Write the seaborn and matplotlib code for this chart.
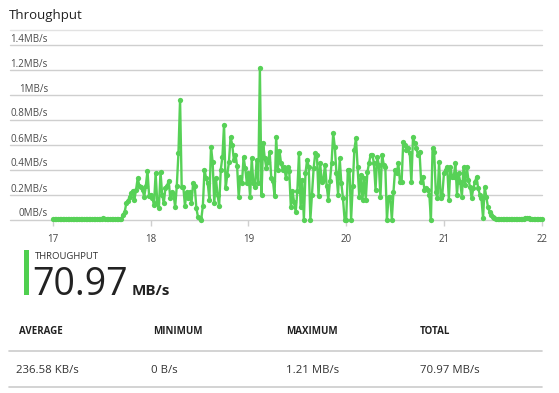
import numpy as np
import pandas as pd
import matplotlib
matplotlib.use("Agg")
import matplotlib.pyplot as plt
import seaborn as sns
from matplotlib import transforms
from matplotlib.patches import Rectangle
from matplotlib.lines import Line2D

# ---------------- data (MB/s, one sample per minute from 17:00) ----------------
idle_17 = [0.003, 0.003, 0.003, 0.003, 0.003, 0.003, 0.003, 0.003, 0.003, 0.003,
           0.003, 0.003, 0.003, 0.003, 0.003, 0.003, 0.003, 0.003, 0.003, 0.003,
           0.003, 0.003, 0.003, 0.003, 0.003, 0.003, 0.003, 0.003, 0.003, 0.003,
           0.006, 0.010, 0.006, 0.003, 0.003, 0.003, 0.003, 0.003, 0.003, 0.003,
           0.003, 0.003]
ramp_17 = [0.005, 0.04, 0.06, 0.13, 0.15, 0.18, 0.21, 0.23, 0.16, 0.24,
           0.33, 0.27, 0.26, 0.24, 0.18, 0.27, 0.39, 0.19]
hour_18 = [0.20, 0.17, 0.12, 0.37, 0.14, 0.09, 0.38, 0.20, 0.13, 0.25,
           0.27, 0.31, 0.17, 0.22, 0.20, 0.10, 0.27, 0.53, 0.96, 0.26,
           0.26, 0.11, 0.22, 0.17, 0.22, 0.13, 0.29, 0.27, 0.09, 0.02,
           0.01, 0.00, 0.11, 0.40, 0.33, 0.29, 0.16, 0.58, 0.46, 0.13,
           0.33, 0.20, 0.11, 0.40, 0.50, 0.76, 0.25, 0.36, 0.46, 0.66,
           0.60, 0.48, 0.52, 0.43, 0.18, 0.34, 0.29, 0.50, 0.41, 0.29]
hour_19 = [0.37, 0.18, 0.49, 0.29, 0.26, 0.48, 0.29, 1.21, 0.20, 0.61,
           0.49, 0.41, 0.46, 0.54, 0.33, 0.31, 0.19, 0.66, 0.40, 0.55,
           0.45, 0.40, 0.42, 0.33, 0.42, 0.39, 0.10, 0.23, 0.14, 0.06,
           0.23, 0.53, 0.10, 0.32, 0.00, 0.37, 0.48, 0.42, 0.00, 0.20,
           0.41, 0.53, 0.52, 0.19, 0.45, 0.30, 0.32, 0.44, 0.27, 0.16,
           0.31, 0.45, 0.69, 0.58, 0.37, 0.20, 0.49, 0.29, 0.17, 0.00]
hour_20 = [0.00, 0.40, 0.40, 0.00, 0.27, 0.56, 0.65, 0.42, 0.18, 0.36,
           0.16, 0.33, 0.16, 0.38, 0.45, 0.52, 0.52, 0.45, 0.24, 0.50,
           0.44, 0.18, 0.52, 0.44, 0.42, 0.00, 0.18, 0.18, 0.00, 0.22,
           0.40, 0.37, 0.45, 0.30, 0.30, 0.62, 0.60, 0.56, 0.57, 0.53,
           0.30, 0.66, 0.61, 0.57, 0.52, 0.54, 0.30, 0.34, 0.24, 0.25,
           0.24, 0.20, 0.00, 0.57, 0.54, 0.22, 0.17, 0.46, 0.17, 0.20]
hour_21 = [0.37, 0.40, 0.42, 0.16, 0.42, 0.34, 0.34, 0.45, 0.20, 0.37,
           0.30, 0.18, 0.42, 0.28, 0.42, 0.32, 0.26, 0.17, 0.25, 0.30,
           0.34, 0.25, 0.20, 0.17, 0.01, 0.26, 0.18, 0.10, 0.06, 0.04,
           0.02, 0.012, 0.008, 0.006, 0.005, 0.004, 0.004, 0.004, 0.004, 0.004,
           0.004, 0.004, 0.004, 0.004, 0.004, 0.004, 0.004, 0.004, 0.004, 0.004,
           0.010, 0.015, 0.010, 0.004, 0.004, 0.004, 0.004, 0.004, 0.004, 0.004]
end_22 = [0.004]

y_ticks = [0.0, 0.2, 0.4, 0.6, 0.8, 1.0, 1.2, 1.4]
y_tick_labels = ["0MB/s", "0.2MB/s", "0.4MB/s", "0.6MB/s", "0.8MB/s", "1MB/s", "1.2MB/s", "1.4MB/s"]
x_ticks = [17, 18, 19, 20, 21, 22]
x_tick_labels = ["17", "18", "19", "20", "21", "22"]

title = "Throughput"
kpi_label = "THROUGHPUT"
kpi_value = "70.97"
kpi_unit = "MB/s"
stat_headers = ["AVERAGE", "MINIMUM", "MAXIMUM", "TOTAL"]
stat_values = ["236.58 KB/s", "0 B/s", "1.21 MB/s", "70.97 MB/s"]

values = idle_17 + ramp_17 + hour_18 + hour_19 + hour_20 + hour_21 + end_22
minutes = np.arange(len(values))
df = pd.DataFrame({"hour": 17 + minutes / 60.0, "throughput": values})

# ---------------- style ----------------
sns.set_theme(style="white")
plt.rcParams["font.family"] = ["Open Sans", "DejaVu Sans"]

GREEN = "#57d157"
GRID = "#cfcfcf"
TXT = "#222222"

W, H = 559, 393
fig = plt.figure(figsize=(W / 100, H / 100), dpi=100)
fig.patch.set_facecolor("white")


def fx(px):
    return px / W


def fy(py):
    return 1 - py / H


x0, x1 = 53, 541.7
y_zero, y_top = 219.5, 44.5
ax = fig.add_axes([fx(x0), fy(y_zero), (x1 - x0) / W, (y_zero - y_top) / H])
ax.set_facecolor("none")

sns.lineplot(data=df, x="hour", y="throughput", ax=ax, color=GREEN,
             linewidth=1.7, marker="o", markersize=3.8, markeredgewidth=0,
             clip_on=False, zorder=3)

ax.set_xlim(17, 22)
ax.set_ylim(0, 1.4)
for s in ax.spines.values():
    s.set_visible(False)

grid_left = (10 - x0) / (x1 - x0)
for t in y_ticks:
    ax.axhline(t, xmin=grid_left, xmax=1, color=GRID, lw=1.0, clip_on=False, zorder=1)

lab_trans = transforms.offset_copy(ax.get_yaxis_transform(), fig=fig, x=-5, y=3, units="dots")
for t, lab in zip(y_ticks, y_tick_labels):
    ax.text(0, t, lab, transform=lab_trans, ha="right", va="baseline",
            fontsize=7, color="#4a4a4a")

ax.set_yticks([])
ax.set_xticks(x_ticks, x_tick_labels)
ax.tick_params(axis="x", bottom=True, length=4.5, width=1, color=GRID,
               pad=6, labelsize=7, labelcolor="#444444")
ax.set_xlabel("")
ax.set_ylabel("")

# title + separator
fig.text(fx(8.5), fy(19), title, fontsize=9.5, color=TXT, ha="left", va="baseline")
fig.add_artist(Line2D([fx(10), fx(541.7)], [fy(30), fy(30)], color="#e2e2e2", lw=1.0))

# KPI block
fig.add_artist(Rectangle((fx(24), fy(295)), 4.5 / W, 45 / H, transform=fig.transFigure,
                         color="#4fcf4f", lw=0))
fig.text(fx(35), fy(259.3), kpi_label, fontsize=6.8, color="#333333", ha="left", va="baseline")
fig.text(fx(32.5), fy(295), kpi_value, fontsize=27, fontweight="medium", color=TXT,
         ha="left", va="baseline")
fig.text(fx(131.5), fy(295), kpi_unit, fontsize=11, fontweight="bold", color=TXT,
         ha="left", va="baseline")

# stats table
col_x = [19, 153, 286.5, 420]
val_x = [16, 151, 286, 420]
for cx, h in zip(col_x, stat_headers):
    fig.text(fx(cx), fy(334.3), h, fontsize=7, fontweight="bold", color="#222222",
             ha="left", va="baseline")
for cx, v in zip(val_x, stat_values):
    fig.text(fx(cx), fy(373), v, fontsize=8.2, color="#333333", ha="left", va="baseline")
fig.add_artist(Line2D([fx(9), fx(542)], [fy(351), fy(351)], color="#cccccc", lw=1.2))
fig.add_artist(Line2D([fx(9), fx(542)], [fy(386.5), fy(386.5)], color="#cccccc", lw=1.2))

fig.savefig("out.png", dpi=100, facecolor="white")
